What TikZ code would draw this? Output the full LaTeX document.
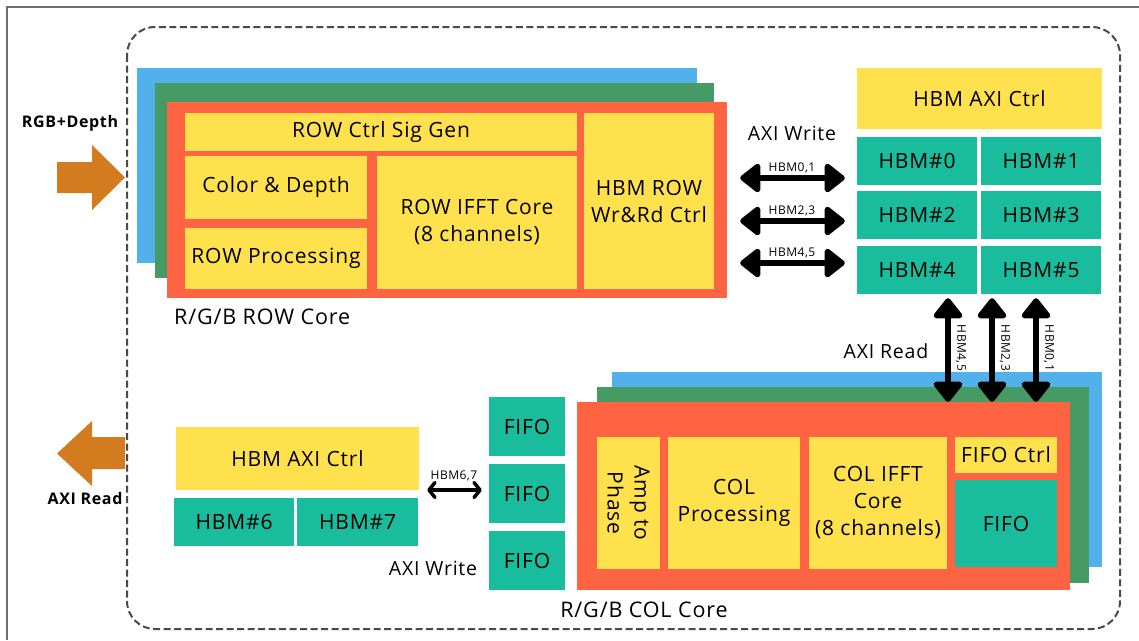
\documentclass[tikz,border=0pt]{standalone}
\usepackage{fontspec}
\setmainfont{Open Sans}[LetterSpace=4]
\usetikzlibrary{arrows.meta}

\definecolor{layerblue}{HTML}{52B1EA}
\definecolor{layergreen}{HTML}{459B63}
\definecolor{corered}{HTML}{FF6442}
\definecolor{blockyellow}{HTML}{FFE04D}
\definecolor{hbmteal}{HTML}{19BC9C}
\definecolor{ioorange}{HTML}{D27B1F}
\definecolor{dashgray}{HTML}{4A4A4A}

\begin{document}
\begin{tikzpicture}[x=1pt,y=-1pt,
    box/.style={inner sep=0pt,align=center,font=\fontsize{21}{27}\selectfont},
    ybox/.style={box,fill=blockyellow},
    tbox/.style={box,fill=hbmteal},
    wh/.style 2 args={minimum width=#1pt,minimum height=#2pt},
    txt/.style={inner sep=0pt,font=\fontsize{21.5}{25}\selectfont},
    axi/.style={inner sep=0pt,font=\fontsize{19.5}{23}\selectfont},
    lbl/.style={inner sep=1pt,font=\fontsize{12}{14}\selectfont},
    bidir/.style={line width=5.5pt,{Triangle[length=22pt,width=33pt,round]}-{Triangle[length=22pt,width=33pt,round]}},
    smallbidir/.style={line width=3.5pt,{Straight Barb[length=6pt,width=15pt,round]}-{Straight Barb[length=6pt,width=15pt,round]}}]
  \useasboundingbox (0,0) rectangle (1139,640);
  \draw[dashgray!80,line width=1.2pt] (7,640) -- (7,7) -- (1139,7);
  \draw[dashgray,line width=2pt,dash pattern=on 7pt off 3.5pt,rounded corners=28pt] (127,27) rectangle (1120,629);

  % row core, three colour layers
  \fill[layerblue] (137,68) rectangle (697,263);
  \fill[layergreen] (155,83) rectangle (714,278);
  \node[fill=corered,wh={560}{196}] (rowcore) at (447,200) {};
  \node[ybox,wh={392}{38}] (siggen) at (381,132) {ROW Ctrl Sig Gen};
  \node[ybox,wh={182}{63}] (coldep) at (276,187.5) {Color \& Depth};
  \node[ybox,wh={182}{61}] (rowproc) at (276,258.5) {ROW Processing};
  \node[ybox,wh={200}{133}] (rowifft) at (477,222.5) {ROW IFFT Core\\(8 channels)};
  \node[ybox,wh={130}{176}] (rowhbm) at (649,201) {HBM ROW\\Wr\&Rd Ctrl};
  \node[txt,anchor=west] (rowname) at (174,317) {R/G/B ROW Core};

  % hbm 0-5
  \node[ybox,wh={245}{61}] (hbmctrl) at (979.5,98.5) {HBM AXI Ctrl};
  \node[tbox,wh={120}{48}] (hbm0) at (917,161) {HBM\#0};
  \node[tbox,wh={120}{48}] (hbm1) at (1041,161) {HBM\#1};
  \node[tbox,wh={120}{48}] (hbm2) at (917,215) {HBM\#2};
  \node[tbox,wh={120}{48}] (hbm3) at (1041,215) {HBM\#3};
  \node[tbox,wh={120}{48}] (hbm4) at (917,270) {HBM\#4};
  \node[tbox,wh={120}{48}] (hbm5) at (1041,270) {HBM\#5};

  % col core
  \fill[layerblue] (612,372) rectangle (1102,567);
  \fill[layergreen] (597,387) rectangle (1089,583);
  \node[fill=corered,wh={493}{188}] (colcore) at (823.5,496) {};
  \node[ybox,rotate=-90,wh={132}{63}] (amp) at (628.5,503) {Amp to\\Phase};
  \node[ybox,wh={132}{132}] (colproc) at (734,503) {COL\\Processing};
  \node[ybox,wh={138}{132}] (colifft) at (878,503) {COL IFFT\\Core\\(8 channels)};
  \node[ybox,wh={102}{36}] (fifoctrl) at (1006,455) {FIFO Ctrl};
  \node[tbox,wh={102}{87}] (fifoin) at (1006,523.5) {FIFO};
  \node[txt] (colname) at (644,610) {R/G/B COL Core};

  % fifos and hbm 6,7
  \node[tbox,wh={76}{59}] (fifoa) at (527,426.5) {FIFO};
  \node[tbox,wh={76}{59}] (fifob) at (527,493.5) {FIFO};
  \node[tbox,wh={76}{59}] (fifoc) at (527,560.5) {FIFO};
  \node[ybox,wh={243}{63}] (lhbmctrl) at (297.5,458.5) {HBM AXI Ctrl};
  \node[tbox,wh={120}{48}] (hbm6) at (234,522) {HBM\#6};
  \node[tbox,wh={121}{48}] (hbm7) at (357.5,522) {HBM\#7};

  % axi links
  \node[axi] (wrtop) at (792,133) {AXI Write};
  \draw[bidir,shorten <=13pt,shorten >=12pt] (rowcore.east |- 0,178) -- node[lbl,above=1pt] (l01) {HBM0,1} (hbm0.west |- 0,178);
  \draw[bidir,shorten <=13pt,shorten >=12pt] (rowcore.east |- 0,221) -- node[lbl,above=1pt] (l23) {HBM2,3} (hbm0.west |- 0,221);
  \draw[bidir,shorten <=13pt,shorten >=12pt] (rowcore.east |- 0,263) -- node[lbl,above=1pt] (l45) {HBM4,5} (hbm0.west |- 0,263);

  \node[axi] (rdright) at (886,351) {AXI Read};
  \draw[bidir,shorten <=4pt] (hbm4.south -| 948,0) -- (colcore.north -| 948,0);
  \draw[bidir,shorten <=4pt] (hbm5.south -| 992,0) -- (colcore.north -| 992,0);
  \draw[bidir,shorten <=4pt] (hbm5.south -| 1036,0) -- (colcore.north -| 1036,0);
  \node[lbl,rotate=-90] (v45) at (961,348) {HBM4,5};
  \node[lbl,rotate=-90] (v23) at (1005,348) {HBM2,3};
  \node[lbl,rotate=-90] (v01) at (1049,348) {HBM0,1};

  \node[axi] (wrbot) at (433,568) {AXI Write};
  \draw[smallbidir,shorten <=8pt,shorten >=7pt] (lhbmctrl.east |- 0,490) -- node[lbl,above=6pt] (l67) {HBM6,7} (fifob.west |- 0,490);

  % input / output arrows
  \fill[ioorange] (57,162) -- (92,162) -- (92,145) -- (125,177.5) -- (92,210) -- (92,193) -- (57,193) -- cycle;
  \fill[ioorange] (125,437) -- (92,437) -- (92,421) -- (57,453.5) -- (92,486) -- (92,469) -- (125,469) -- cycle;
  \node[inner sep=0pt,font=\bfseries\fontsize{16}{19}\selectfont] (inlbl) at (70,123) {RGB+Depth};
  \node[inner sep=0pt,font=\bfseries\fontsize{16}{19}\selectfont] (outlbl) at (85,498) {AXI Read};
\end{tikzpicture}
\end{document}
